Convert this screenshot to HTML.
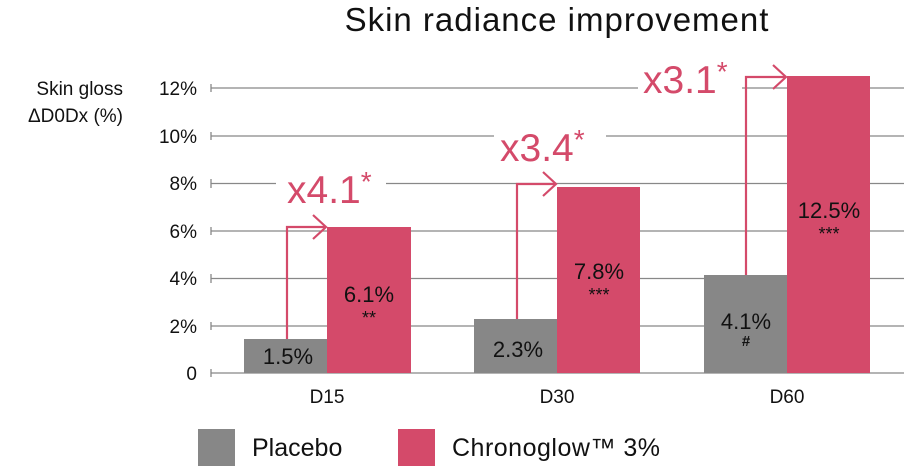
<!DOCTYPE html>
<html><head><meta charset="utf-8"><style>
body{margin:0;background:#fff;}
svg{display:block;font-family:"Liberation Sans","DejaVu Sans",sans-serif;}
</style></head><body>
<svg width="904" height="474" viewBox="0 0 904 474" xmlns="http://www.w3.org/2000/svg">
<text x="557" y="31" font-size="33" text-anchor="middle" fill="#111" letter-spacing="1">Skin radiance improvement</text>
<text x="123" y="95" font-size="19" text-anchor="end" fill="#111">Skin gloss</text>
<text x="123" y="122" font-size="19" text-anchor="end" fill="#111">ΔD0Dx (%)</text>
<g stroke="#888" stroke-width="1.3">
<line x1="211" y1="88" x2="904" y2="88"/><line x1="211" y1="136" x2="904" y2="136"/>
<line x1="211" y1="183.5" x2="904" y2="183.5"/><line x1="211" y1="231" x2="904" y2="231"/>
<line x1="211" y1="278.5" x2="904" y2="278.5"/><line x1="211" y1="326" x2="904" y2="326"/>
<line x1="211" y1="373" x2="904" y2="373"/>
<line x1="211" y1="84" x2="211" y2="92"/><line x1="211" y1="132" x2="211" y2="140"/>
<line x1="211" y1="179" x2="211" y2="188"/><line x1="211" y1="227" x2="211" y2="235"/>
<line x1="211" y1="274" x2="211" y2="283"/><line x1="211" y1="322" x2="211" y2="330"/>
<line x1="211" y1="369" x2="211" y2="377"/>
</g>
<g font-size="19" text-anchor="end" fill="#111">
<text x="197" y="95">12%</text><text x="197" y="143">10%</text><text x="197" y="190">8%</text>
<text x="197" y="238">6%</text><text x="197" y="285">4%</text><text x="197" y="333">2%</text><text x="197" y="380">0</text>
</g>
<rect x="276" y="170" width="110" height="30" fill="#fff"/>
<rect x="494" y="122" width="112" height="30" fill="#fff"/>
<rect x="638" y="60" width="104" height="40" fill="#fff"/>
<rect x="244" y="339" width="83" height="34" fill="#878787"/>
<rect x="327" y="227" width="84" height="146" fill="#d44a6a"/>
<rect x="474" y="319" width="83" height="54" fill="#878787"/>
<rect x="557" y="187" width="83" height="186" fill="#d44a6a"/>
<rect x="704" y="275" width="83" height="98" fill="#878787"/>
<rect x="787" y="76" width="83" height="297" fill="#d44a6a"/>
<g stroke="#d44a6a" stroke-width="2.2" fill="none">
<polyline points="287,339 287,227 326,227"/><polyline points="313,215 326,227 313,239"/>
<polyline points="517,319 517,184 556,184"/><polyline points="543,172 556,184 543,196"/>
<polyline points="746,275 746,77 786,77"/><polyline points="773,65 786,77 773,89"/>
</g>
<g fill="#d44a6a" font-size="39">
<text x="287" y="203">x4.1<tspan font-size="28" dy="-12">*</tspan></text>
<text x="500" y="161">x3.4<tspan font-size="28" dy="-12">*</tspan></text>
<text x="643" y="93">x3.1<tspan font-size="28" dy="-12">*</tspan></text>
</g>
<g font-size="22" text-anchor="middle" fill="#111">
<text x="288" y="364">1.5%</text>
<text x="369" y="302">6.1%</text><text x="369" y="324" font-size="18">**</text>
<text x="518" y="357">2.3%</text>
<text x="599" y="279">7.8%</text><text x="599" y="301" font-size="18">***</text>
<text x="746" y="329">4.1%</text><text x="746" y="346" font-size="15" font-weight="bold">#</text>
<text x="829" y="218">12.5%</text><text x="829" y="240" font-size="18">***</text>
</g>
<g font-size="19" text-anchor="middle" fill="#111">
<text x="327" y="403">D15</text><text x="557" y="403">D30</text><text x="787" y="403">D60</text>
</g>
<rect x="198" y="429" width="37" height="37" fill="#878787"/>
<text x="252" y="456" font-size="25" fill="#111">Placebo</text>
<rect x="398" y="429" width="37" height="37" fill="#d44a6a"/>
<text x="452" y="456" font-size="25" fill="#111" letter-spacing="0.5">Chronoglow™ 3%</text>
</svg>
</body></html>
